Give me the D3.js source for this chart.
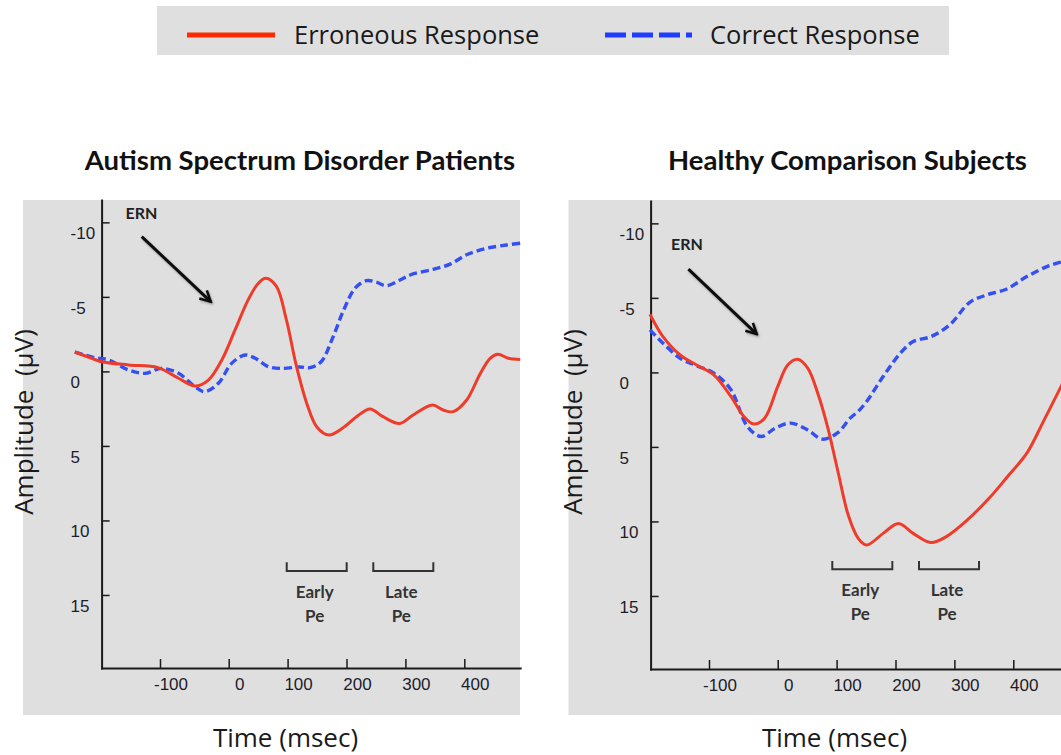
<!DOCTYPE html>
<html>
<head>
<meta charset="utf-8">
<script src="https://cdn.jsdelivr.net/npm/d3@7/dist/d3.min.js"></script>
<style>
  html, body { margin: 0; padding: 0; background: #ffffff; }
  svg { display: block; }
  text { white-space: pre; }
</style>
</head>
<body>
<svg id="chart" width="1061" height="755"></svg>
<script>
// ---- Data -------------------------------------------------------------
const timeTicks = [-100, 0, 100, 200, 300, 400];
const ampTicks = [-10, -5, 0, 5, 10, 15];
const seriesNames = ["Erroneous Response", "Correct Response"];
const panelTitles = ["Autism Spectrum Disorder Patients", "Healthy Comparison Subjects"];
const peLabels = [["Early", "Pe"], ["Late", "Pe"]];

// Grand-average waveforms: [time (ms), amplitude (µV)]
const asdErroneous = [
  [-224, -1.3], [-195, -0.8], [-185, -0.65], [-146, -0.43], [-103, -0.25], [-73, 0.46],
  [-49, 0.98], [-30, 0.6], [-10, -0.77], [11, -2.8], [33, -4.8], [50, -5.9], [63, -6.25],
  [81, -5.7], [98, -3.45], [115, -0.35], [133, 2.2], [150, 3.75], [170, 4.27], [197, 3.7],
  [217, 3.04], [240, 2.52], [262, 3.04], [290, 3.5], [313, 2.93], [346, 2.26], [364, 2.59],
  [381, 2.7], [404, 1.92], [427, 0.15], [444, -0.88], [457, -1.15], [475, -0.88], [495, -0.8]
];
const asdCorrect = [
  [-224, -1.3], [-195, -0.92], [-175, -0.77], [-146, -0.1], [-122, 0.13], [-98, -0.2],
  [-73, 0.13], [-49, 1.03], [-35, 1.36], [-15, 0.8], [5, -0.54], [28, -1.1], [45, -0.88],
  [67, -0.32], [90, -0.2], [121, -0.3], [138, -0.25], [157, -0.65], [176, -2.2], [195, -4.1],
  [215, -5.6], [234, -6.09], [250, -6.0], [268, -5.75], [291, -6.13], [310, -6.5], [347, -6.85],
  [376, -7.2], [404, -7.83], [438, -8.26], [472, -8.48], [495, -8.6]
];
const hcsErroneous = [
  [-186, -3.9], [-167, -2.4], [-142, -1.17], [-118, -0.5], [-93, 0.17], [-68, 1.62],
  [-49, 2.97], [-35, 3.46], [-19, 3.07], [0, 0.95], [17, -0.5], [34, -0.88], [51, -0.28],
  [68, 1.4], [85, 3.7], [102, 6.6], [120, 9.6], [137, 11.15], [151, 11.58], [179, 10.8],
  [205, 10.13], [230, 10.8], [260, 11.42], [287, 11.0], [322, 9.9], [360, 8.4], [390, 7.0],
  [423, 5.42], [451, 3.3], [481, 0.95], [495, -0.2]
];
const hcsCorrect = [
  [-186, -2.85], [-167, -1.96], [-142, -0.95], [-118, -0.44], [-93, 0.05], [-68, 1.17],
  [-44, 3.64], [-24, 4.3], [-4, 3.75], [22, 3.4], [51, 3.86], [76, 4.48], [102, 4.04],
  [123, 3.07], [137, 2.6], [151, 1.95], [179, 0.28], [208, -1.28], [230, -2.07], [260, -2.4],
  [292, -3.19], [326, -4.7], [355, -5.2], [389, -5.6], [423, -6.43], [457, -7.1], [481, -7.4],
  [495, -7.55]
];

// Early / Late Pe measurement windows (ms)
const asdPeWindows = [[98.5, 200.3], [245.5, 347.4]];
const hcsPeWindows = [[92.7, 194.6], [239.9, 341.8]];

// ---- Layout -----------------------------------------------------------
const svg = d3.select("#chart");
const colors = { error: "#ef3b2a", correct: "#3450f0", legendError: "#ff2a00", legendCorrect: "#1f3dff" };
const bgGray = "#dfdfdf";

// Time axis: the stretched pre-response segment is kept as its own piece of the scale
const x = d3.scaleLinear()
  .domain([-185, -100, 0, 400, 495])
  .range([101.6, 160, 228.7, 464.3, 520.2]);
const y = d3.scaleLinear().domain([-11.5, 19.9]).range([200, 668]);

const panels = [
  {
    title: panelTitles[0], erroneous: asdErroneous, correct: asdCorrect, pe: asdPeWindows,
    dx: 0, dy: 0, bg: [23, 200, 497, 515], titleX: 300,
    ern: { text: [-127, -10.25], from: [-126.6, -9.04], to: [-26.2, -4.68] },
    bracket: [12.8, 13.4]
  },
  {
    title: panelTitles[1], erroneous: hcsErroneous, correct: hcsCorrect, pe: hcsPeWindows,
    dx: 549, dy: 1, bg: [568.5, 200, 500, 515], titleX: 847.5,
    ern: { text: [-132, -8.2], from: [-130, -6.93], to: [-30.5, -2.57] },
    bracket: [12.65, 13.2]
  }
];

// Arrowhead and soft shadow used by the ERN annotations
const defs = svg.append("defs");
defs.append("marker")
  .attr("id", "arrowhead")
  .attr("viewBox", "0 0 14 14")
  .attr("refX", 12).attr("refY", 7)
  .attr("markerWidth", 14).attr("markerHeight", 14)
  .attr("markerUnits", "userSpaceOnUse")
  .attr("orient", "auto")
  .append("path")
  .attr("d", "M1.5,1.5 L12,7 L1.5,12.5")
  .attr("fill", "none")
  .attr("stroke", "#111")
  .attr("stroke-width", 2.6)
  .attr("stroke-linejoin", "miter");
const shadow = defs.append("filter").attr("id", "softShadow")
  .attr("x", "-20%").attr("y", "-20%").attr("width", "140%").attr("height", "140%");
shadow.append("feDropShadow")
  .attr("dx", 1).attr("dy", 1.5).attr("stdDeviation", 1.2)
  .attr("flood-color", "#000").attr("flood-opacity", 0.3);

// ---- Legend -----------------------------------------------------------
const legend = svg.append("g");
legend.append("rect").attr("x", 157).attr("y", 6).attr("width", 792).attr("height", 49).attr("fill", bgGray);
legend.append("line").attr("x1", 187).attr("x2", 275).attr("y1", 35).attr("y2", 35)
  .attr("stroke", colors.legendError).attr("stroke-width", 5);
legend.append("text").attr("x", 294).attr("y", 44).text(seriesNames[0])
  .attr("font-family", "Open Sans").attr("font-size", 25.5).attr("fill", "#1a1a1a");
legend.append("line").attr("x1", 605).attr("x2", 692).attr("y1", 35).attr("y2", 35)
  .attr("stroke", colors.legendCorrect).attr("stroke-width", 5).attr("stroke-dasharray", "21,6");
legend.append("text").attr("x", 710).attr("y", 44).text(seriesNames[1])
  .attr("font-family", "Open Sans").attr("font-size", 25.5).attr("fill", "#1a1a1a");

// ---- Panels -----------------------------------------------------------
const line = d3.line()
  .x(d => x(d[0]))
  .y(d => y(d[1]))
  .curve(d3.curveCatmullRom.alpha(0.5));

panels.forEach(p => {
  svg.append("rect")
    .attr("x", p.bg[0]).attr("y", p.bg[1]).attr("width", p.bg[2]).attr("height", p.bg[3])
    .attr("fill", bgGray);

  svg.append("text")
    .attr("x", p.titleX).attr("y", 170)
    .attr("text-anchor", "middle")
    .attr("font-family", "Lato").attr("font-weight", 700).attr("font-size", 27.5)
    .attr("fill", "#111")
    .text(p.title);

  svg.append("text")
    .attr("transform", `translate(${33 + p.dx},422) rotate(-90)`)
    .attr("text-anchor", "middle")
    .attr("font-family", "Open Sans").attr("font-size", 26).attr("fill", "#1a1a1a")
    .text("Amplitude  (µV)");

  svg.append("text")
    .attr("x", 285.5 + p.dx).attr("y", 747)
    .attr("text-anchor", "middle")
    .attr("font-family", "Open Sans").attr("font-size", 26).attr("fill", "#1a1a1a")
    .text("Time (msec)");

  const g = svg.append("g").attr("transform", `translate(${p.dx},${p.dy})`);

  // Axes: ticks point into the plotting area
  const yAxis = g.append("g")
    .attr("transform", `translate(${x(-185)},0)`)
    .call(d3.axisRight(y).tickValues(ampTicks).tickSize(8).tickSizeOuter(0).tickFormat(""));
  const xAxis = g.append("g")
    .attr("transform", `translate(0,${y(19.9)})`)
    .call(d3.axisTop(x).tickValues(timeTicks).tickSize(9).tickSizeOuter(0).tickFormat(""));
  [yAxis, xAxis].forEach(a => {
    a.select(".domain").attr("stroke", "#1a1a1a").attr("stroke-width", 2).attr("stroke-linecap", "square");
    a.selectAll(".tick line").attr("stroke", "#1a1a1a").attr("stroke-width", 1.5);
  });

  g.selectAll("text.ylab").data(ampTicks).join("text")
    .attr("class", "ylab")
    .attr("x", x(-185) - 31).attr("y", d => y(d) + 17)
    .attr("font-family", "Liberation Sans").attr("font-size", 17).attr("fill", "#1c1c2a")
    .text(d => d);
  g.selectAll("text.xlab").data(timeTicks).join("text")
    .attr("class", "xlab")
    .attr("x", d => x(d) + 11).attr("y", y(19.9) + 22)
    .attr("text-anchor", "middle")
    .attr("font-family", "Liberation Sans").attr("font-size", 17).attr("fill", "#1c1c2a")
    .text(d => d);

  // Waveforms
  g.append("path").datum(p.correct)
    .attr("d", line).attr("fill", "none")
    .attr("stroke", colors.correct).attr("stroke-width", 3.4)
    .attr("stroke-dasharray", "8,4");
  g.append("path").datum(p.erroneous)
    .attr("d", line).attr("fill", "none")
    .attr("stroke", colors.error).attr("stroke-width", 3);

  // ERN annotation
  g.append("text")
    .attr("x", x(p.ern.text[0])).attr("y", y(p.ern.text[1]))
    .attr("text-anchor", "middle")
    .attr("font-family", "Lato").attr("font-weight", 700).attr("font-size", 16).attr("fill", "#222")
    .text("ERN");
  g.append("line")
    .attr("x1", x(p.ern.from[0])).attr("y1", y(p.ern.from[1]))
    .attr("x2", x(p.ern.to[0])).attr("y2", y(p.ern.to[1]))
    .attr("stroke", "#111").attr("stroke-width", 3)
    .attr("marker-end", "url(#arrowhead)")
    .attr("filter", "url(#softShadow)");

  // Early / Late Pe windows
  p.pe.forEach((w, i) => {
    const top = y(p.bracket[0]), bottom = y(p.bracket[1]);
    g.append("path")
      .attr("d", `M${x(w[0])},${top}V${bottom}H${x(w[1])}V${top}`)
      .attr("fill", "none").attr("stroke", "#333").attr("stroke-width", 2);
    const cx = (x(w[0]) + x(w[1])) / 2 - 2;
    peLabels[i].forEach((s, k) => {
      g.append("text")
        .attr("x", cx).attr("y", bottom + 27 + k * 23.5)
        .attr("text-anchor", "middle")
        .attr("font-family", "Lato").attr("font-weight", 700).attr("font-size", 17).attr("fill", "#333")
        .text(s);
    });
  });
});
</script>
</body>
</html>
